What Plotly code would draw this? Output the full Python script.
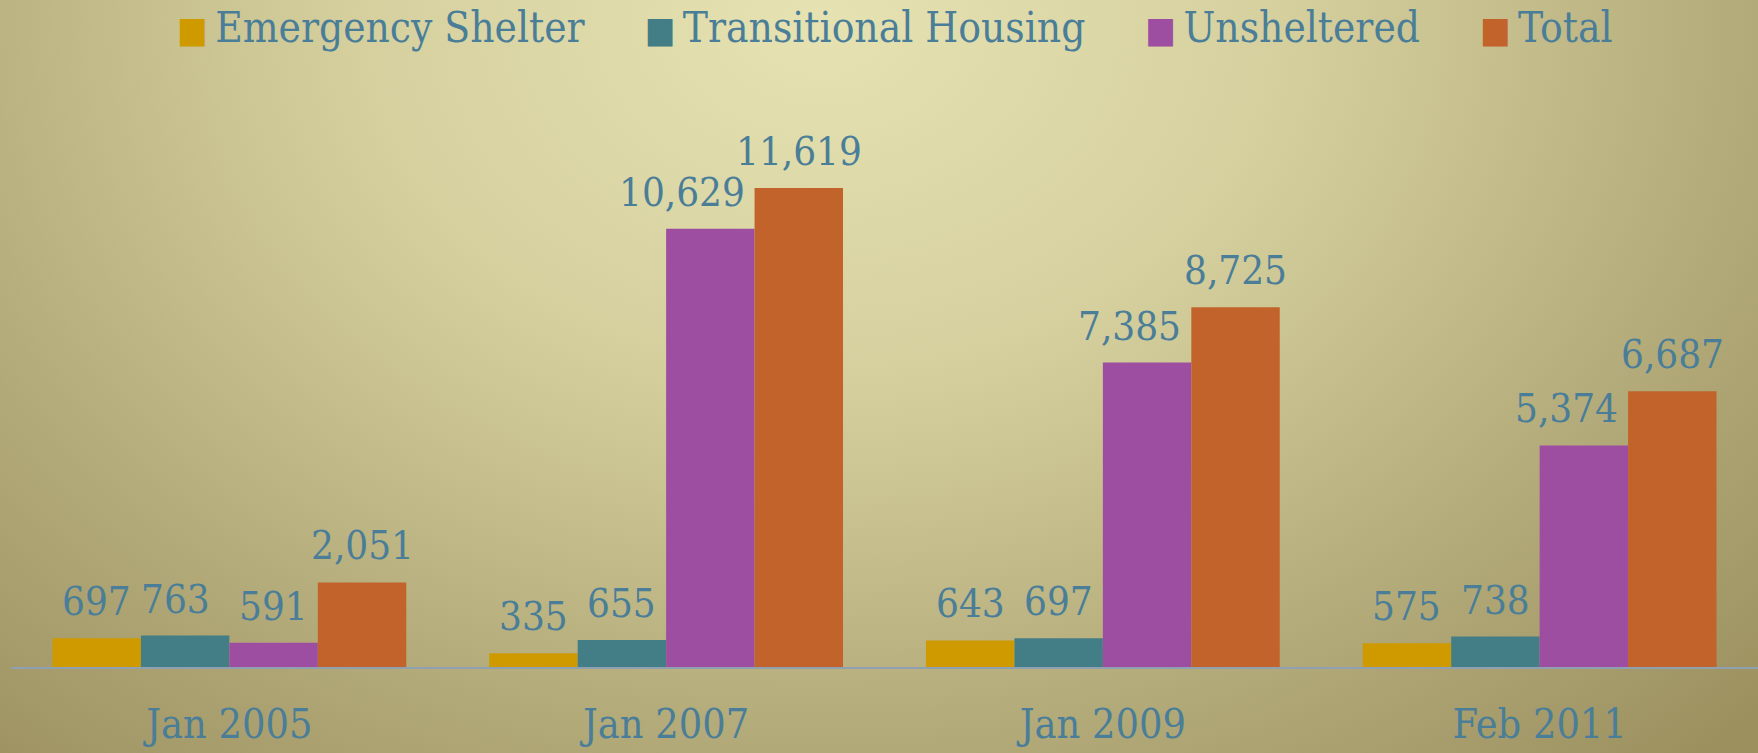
import base64
import plotly.graph_objects as go

# ---------------- data ----------------
categories = ["Jan 2005", "Jan 2007", "Jan 2009", "Feb 2011"]
series_names = ["Emergency Shelter", "Transitional Housing", "Unsheltered", "Total"]
emergency_shelter = [697, 335, 643, 575]
transitional_housing = [763, 655, 697, 738]
unsheltered = [591, 10629, 7385, 5374]
total = [2051, 11619, 8725, 6687]

series_values = [emergency_shelter, transitional_housing, unsheltered, total]
colors = ["#CE9A00", "#437E86", "#9E4EA0", "#C2632B"]
text_color = "#4A7E98"
FONT = "DejaVu Serif Condensed, DejaVu Serif, serif"

W, H = 1758, 753
M_L, M_R, M_T, M_B = 11, 0, 80, 86
BARGAP = 0.19
PX_FOR_MAX = 479  # pixel height of tallest bar in reference
plot_h = H - M_T - M_B
plot_w = W - M_L - M_R
ymax = max(total) * plot_h / PX_FOR_MAX

# ---------------- background (radial gradient) ----------------
OV = 30  # overscan
BW, BH = W + 2 * OV, H + 2 * OV
svg = f'''<svg xmlns="http://www.w3.org/2000/svg" width="{BW}" height="{BH}" viewBox="0 0 {BW} {BH}" preserveAspectRatio="none">
<defs><radialGradient id="g" gradientUnits="userSpaceOnUse" cx="0" cy="0" r="1"
 gradientTransform="translate({820 + OV},{20 + OV}) scale(1300,1000)">
<stop offset="0" stop-color="#E6E2B2"/>
<stop offset="0.35" stop-color="#D6D09F"/>
<stop offset="0.7" stop-color="#B5AC7B"/>
<stop offset="1" stop-color="#9C905F"/>
</radialGradient></defs>
<rect x="0" y="0" width="{BW}" height="{BH}" fill="url(#g)"/>
</svg>'''
bg_uri = "data:image/svg+xml;base64," + base64.b64encode(svg.encode()).decode()

fig = go.Figure()
for name, vals, col in zip(series_names, series_values, colors):
    fig.add_trace(go.Bar(
        name=name, x=categories, y=vals,
        marker=dict(color=col, line=dict(width=0)),
        showlegend=False,
    ))

# ---------------- data labels ----------------
n = len(series_names)
w = (1 - BARGAP) / n
annotations = []
for j, vals in enumerate(series_values):
    for i, v in enumerate(vals):
        cx = i + (j - (n - 1) / 2) * w
        xanchor, xshift = "center", 0
        # avoid overlapping a taller right neighbour with wide labels
        if j < n - 1 and v >= 1000 and series_values[j + 1][i] > v:
            cx = cx + w / 2
            xanchor, xshift = "right", -8
        elif j == 1 and i == 0:
            xshift = -10
        annotations.append(dict(
            x=cx, y=v, xref="x", yref="y", text=f"{v:,}",
            showarrow=False, xanchor=xanchor, yanchor="bottom",
            xshift=xshift, yshift=12,
            font=dict(family=FONT, size=40, color=text_color),
        ))

# ---------------- legend (as text with coloured squares) ----------------
gap = "&nbsp;" * 5
parts = []
for name, col in zip(series_names, colors):
    parts.append(f'<span style="color:{col};font-size:36px">■</span>&#8201;{name}')
legend_text = gap.join(parts)
annotations.append(dict(
    x=0.5, y=1, xref="paper", yref="paper", text=legend_text,
    showarrow=False, xanchor="center", yanchor="middle",
    xshift=10, yshift=M_T - 27,
    font=dict(family=FONT, size=42, color=text_color),
))

fig.update_layout(
    width=W, height=H, autosize=False,
    margin=dict(l=M_L, r=M_R, t=M_T, b=M_B, pad=0, autoexpand=False),
    barmode="group", bargap=BARGAP, bargroupgap=0,
    paper_bgcolor="#BDB686", plot_bgcolor="rgba(0,0,0,0)",
    showlegend=False,
    annotations=annotations,
    images=[dict(
        source=bg_uri, xref="paper", yref="paper",
        x=-(M_L + OV) / plot_w, y=1 + (M_T + OV) / plot_h,
        sizex=BW / plot_w, sizey=BH / plot_h,
        xanchor="left", yanchor="top", sizing="stretch", layer="below",
    )],
    xaxis=dict(
        showline=True, linecolor="#8FA0B0", linewidth=2,
        showgrid=False, zeroline=False, ticks="",
        automargin=False,
        ticklabelstandoff=20,
        tickfont=dict(family=FONT, size=41, color=text_color),
        fixedrange=True,
    ),
    yaxis=dict(
        range=[0, ymax], visible=False, showgrid=False, zeroline=False,
        automargin=False, fixedrange=True,
    ),
)

fig.write_html(
    "out.html",
    config={"displayModeBar": False},
    post_script="document.body.style.margin='0';document.body.style.overflow='hidden';",
)
